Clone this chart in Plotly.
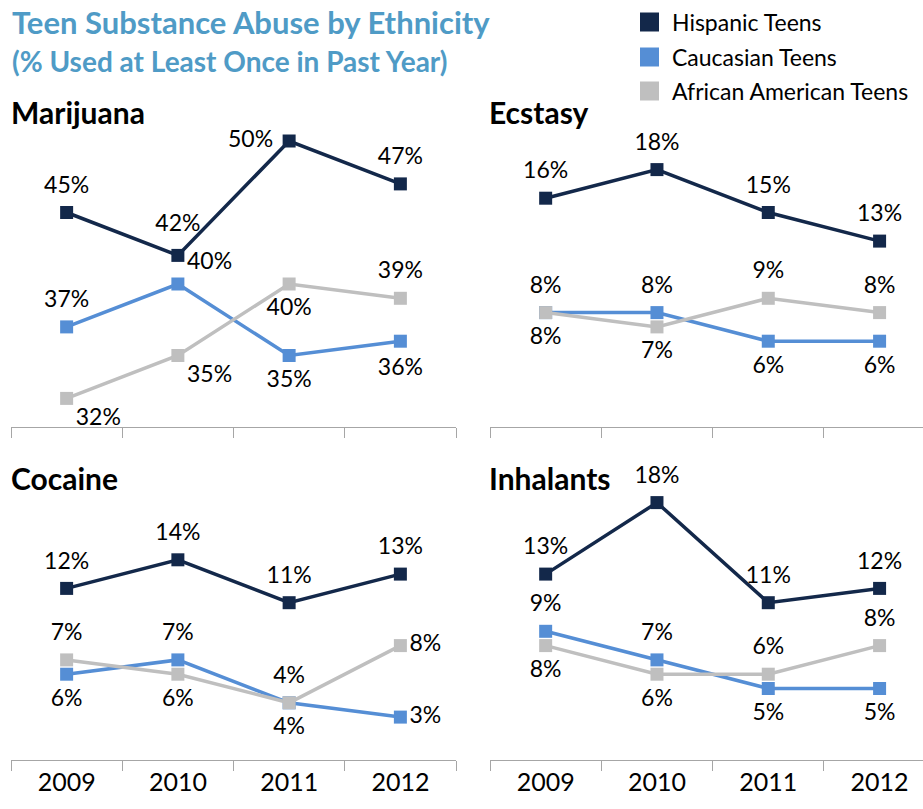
import plotly.graph_objects as go

years = ["2009", "2010", "2011", "2012"]
series_names = ["Hispanic Teens", "Caucasian Teens", "African American Teens"]
series_colors = ["#13284A", "#558ED5", "#BFBFBF"]

marijuana_hispanic = [45, 42, 50, 47]
marijuana_caucasian = [37, 40, 35, 36]
marijuana_african = [32, 35, 40, 39]

ecstasy_hispanic = [16, 18, 15, 13]
ecstasy_caucasian = [8, 8, 6, 6]
ecstasy_african = [8, 7, 9, 8]

cocaine_hispanic = [12, 14, 11, 13]
cocaine_caucasian = [6, 7, 4, 3]
cocaine_african = [7, 6, 4, 8]

inhalants_hispanic = [13, 18, 11, 12]
inhalants_caucasian = [9, 7, 5, 5]
inhalants_african = [8, 6, 6, 8]

panel_titles = ["Marijuana", "Ecstasy", "Cocaine", "Inhalants"]

W, H = 923, 809
FONT = "Lato"
GAP = 21  # spacing "marker" size used only to offset the data labels

panels = [
    dict(data=[marijuana_hispanic, marijuana_caucasian, marijuana_african],
         pos=[["top center", "top center", "middle left", "top center"],
              ["top center", "top right", "bottom center", "bottom center"],
              ["bottom right", "bottom right", "bottom center", "top center"]],
         gap=[[GAP, 28, 24, GAP], [GAP, 13, GAP, 25], [13, 13, GAP, GAP]],
         yr=[30, 50], xd=[11, 456], yd=[141, 427], xr=[-0.5, 3.5], ticklabels=False),
    dict(data=[ecstasy_hispanic, ecstasy_caucasian, ecstasy_african],
         pos=[["top center"] * 4,
              ["top center", "top center", "bottom center", "bottom center"],
              ["bottom center", "bottom center", "top center", "top center"]],
         gap=[[GAP] * 4, [GAP] * 4, [GAP] * 4],
         yr=[0, 20], xd=[490, 923], yd=[141, 427], xr=[-0.5, 3.39], ticklabels=False),
    dict(data=[cocaine_hispanic, cocaine_caucasian, cocaine_african],
         pos=[["top center"] * 4,
              ["bottom center", "top center", "bottom center", "middle right"],
              ["top center", "bottom center", "top center", "middle right"]],
         gap=[[GAP] * 4, [GAP, GAP, GAP, 13], [GAP, GAP, GAP, 13]],
         yr=[0, 20], xd=[11, 456], yd=[474, 760], xr=[-0.5, 3.5], ticklabels=True),
    dict(data=[inhalants_hispanic, inhalants_caucasian, inhalants_african],
         pos=[["top center"] * 4,
              ["top center", "top center", "bottom center", "bottom center"],
              ["bottom center", "bottom center", "top center", "top center"]],
         gap=[[GAP] * 4, [GAP] * 4, [GAP] * 4],
         yr=[0, 20], xd=[490, 923], yd=[474, 760], xr=[-0.5, 3.39], ticklabels=True),
]

fig = go.Figure()
layout = {}
annotations = []
shapes = []

for i, p in enumerate(panels):
    n = "" if i == 0 else str(i + 1)
    for s, (vals, name, col) in enumerate(zip(p["data"], series_names, series_colors)):
        fig.add_trace(go.Scatter(
            x=years, y=vals, mode="lines+markers",
            name=name, showlegend=False, hoverinfo="skip",
            line=dict(color=col, width=3.5),
            marker=dict(symbol="square", size=13, color=col),
            cliponaxis=False,
            xaxis="x" + n, yaxis="y" + n,
        ))
    for s, (vals, name) in enumerate(zip(p["data"], series_names)):
        fig.add_trace(go.Scatter(
            x=years, y=vals, mode="markers+text",
            name=name, showlegend=False,
            marker=dict(symbol="square", size=p["gap"][s], opacity=0),
            text=[f"{v}%" for v in vals],
            textposition=p["pos"][s],
            textfont=dict(family=FONT, size=23, color="#000000"),
            cliponaxis=False,
            xaxis="x" + n, yaxis="y" + n,
        ))
    layout["xaxis" + n] = dict(
        domain=[p["xd"][0] / W, min(p["xd"][1] / W, 1.0)],
        type="category", range=p["xr"], tickson="boundaries",
        ticks="outside", ticklen=10, tickcolor="#A6A6A6", tickwidth=1.3,
        showline=True, linecolor="#A6A6A6", linewidth=1.3,
        showgrid=False, zeroline=False, fixedrange=True,
        showticklabels=p["ticklabels"],
        tickfont=dict(family=FONT, size=25, color="#000000"),
        anchor="y" + n,
    )
    layout["yaxis" + n] = dict(
        domain=[1 - p["yd"][1] / H, 1 - p["yd"][0] / H],
        range=p["yr"], visible=False, showgrid=False, zeroline=False,
        anchor="x" + n,
    )

# panel titles
title_pos = [(9, 112), (487, 112), (9, 478), (487, 478)]
for (tx, ty), t in zip(title_pos, panel_titles):
    annotations.append(dict(
        text=f"<b>{t}</b>", x=tx / W, y=1 - ty / H, xref="paper", yref="paper",
        xanchor="left", yanchor="middle", showarrow=False,
        font=dict(family=FONT, size=30, color="#000000")))

annotations.append(dict(
    text="<b>Teen Substance Abuse by Ethnicity</b>", x=10 / W, y=1 - 22 / H,
    xref="paper", yref="paper", xanchor="left", yanchor="middle", showarrow=False,
    font=dict(family=FONT, size=31, color="#4F9BC6")))
annotations.append(dict(
    text="<b>(% Used at Least Once in Past Year)</b>", x=10 / W, y=1 - 61 / H,
    xref="paper", yref="paper", xanchor="left", yanchor="middle", showarrow=False,
    font=dict(family=FONT, size=28, color="#4F9BC6")))

# legend
legend_y = [22, 57, 91]
for name, col, ly in zip(series_names, series_colors, legend_y):
    shapes.append(dict(type="rect", xref="paper", yref="paper",
                       x0=640 / W, x1=659 / W, y0=1 - (ly - 9.5) / H, y1=1 - (ly + 9.5) / H,
                       fillcolor=col, line=dict(width=0)))
    annotations.append(dict(
        text=name, x=670 / W, y=1 - ly / H, xref="paper", yref="paper",
        xanchor="left", yanchor="middle", showarrow=False,
        font=dict(family=FONT, size=23, color="#000000")))

fig.update_layout(
    width=W, height=H,
    margin=dict(l=0, r=0, t=0, b=0),
    paper_bgcolor="white", plot_bgcolor="white",
    annotations=annotations, shapes=shapes,
    showlegend=False,
    **layout,
)

fig.write_html("out.html")
